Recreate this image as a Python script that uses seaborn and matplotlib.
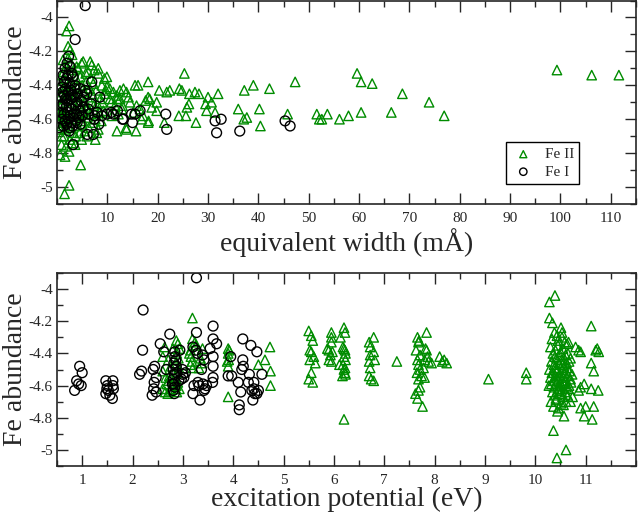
import matplotlib
matplotlib.use('Agg')
import matplotlib.pyplot as plt
from matplotlib.ticker import MultipleLocator
import seaborn as sns

# Fe II lines, equivalent width (mA) vs abundance
fe2_ew = [25.3, 18.1, 16.1, 20.3, 21.8, 22.4, 24.3, 24.8, 26.3, 27.4,
          28.2, 30.0, 32.0, 39.0, 37.2, 42.2, 47.3, 19.8, 18.4, 26.2,
          25.8, 24.2, 25.6, 29.5, 30.7, 29.7, 31.4, 36.0, 40.2, 37.1,
          37.7, 45.8, 40.4, 27.6, 21.3, 18.2, 15.7, 13.8, 19.8, 51.6,
          52.1, 52.6, 53.7, 56.1, 57.9, 59.6, 60.4, 60.4, 62.6, 66.4,
          68.6, 73.9, 76.9, 99.3, 106.2, 111.6,
          15.5, 12.5, 13.8, 14.2, 11.9, 18.1, 15.8, 16.5, 18.8, 15.2,
          17.1, 18.1, 11.9, 13.7, 10.8, 13.0, 14.5, 12.2, 17.6, 16.8,
          2.4, 1.9, 2.2, 2.6, 2.2, 4.7, 2.4, 1.5, 0.6, 1.6,
          2.4, 0.9, 0.9, 0.6, 3.6, 4.9, 7.6, 7.9, 5.9, 8.2,
          5.2, 6.6, 6.2, 9.4, 9.9, 10.5, 4.2, 4.6, 8.2, 9.5,
          10.5, 9.5, 10.9, 4.9, 6.9, 8.2, 9.9, 1.2, 1.8, 2.8,
          3.3, 1.0, 1.4, 2.0, 2.9, 3.8, 0.7, 1.1, 1.7, 2.5,
          3.1, 4.0, 5.0, 5.8, 6.5, 7.2, 0.8, 1.3, 2.1, 3.5,
          4.4, 5.4, 6.1, 7.0, 7.8, 8.6, 0.5, 1.0, 1.5, 2.3,
          3.0, 3.9, 4.8, 5.6, 6.4, 7.3, 8.0, 9.0, 0.6, 1.2,
          1.9, 2.7, 3.4, 4.2, 5.1, 6.0, 6.8, 7.6, 8.4, 9.2,
          0.9, 1.6, 2.4, 3.2, 4.1, 5.0, 6.3, 7.1, 8.8, 0.4,
          1.4, 2.6, 3.7, 4.5, 5.5, 1.8, 2.9, 0.7, 1.3, 3.0,
          3.9, 5.7, 6.7, 7.4, 8.9, 9.7, 11.2, 11.5, 12.5, 12.9,
          11.9, 13.2, 1.5, 2.0, 4.3, 3.3, 5.3, 6.0, 2.2, 1.1]
fe2_ab_ew = [-4.33, -4.38, -4.40, -4.43, -4.44, -4.43, -4.42, -4.43, -4.45, -4.44,
             -4.45, -4.47, -4.45, -4.40, -4.43, -4.42, -4.38, -4.50, -4.48, -4.51,
             -4.53, -4.58, -4.58, -4.51, -4.50, -4.55, -4.56, -4.54, -4.54, -4.60,
             -4.59, -4.57, -4.64, -4.62, -4.62, -4.61, -4.67, -4.66, -4.55, -4.57,
             -4.60, -4.60, -4.57, -4.60, -4.58, -4.33, -4.38, -4.56, -4.39, -4.56,
             -4.45, -4.50, -4.58, -4.31, -4.34, -4.34,
             -4.40, -4.43, -4.44, -4.47, -4.48, -4.47, -4.52, -4.54, -4.53, -4.56,
             -4.58, -4.62, -4.67, -4.65, -4.50, -4.52, -4.50, -4.57, -4.49, -4.60,
             -4.05, -4.08, -4.17, -4.19, -4.24, -4.87, -4.99, -5.04, -4.81, -4.82,
             -4.79, -4.75, -4.70, -4.66, -4.75, -4.72, -4.72, -4.68, -4.70, -4.66,
             -4.26, -4.26, -4.32, -4.36, -4.41, -4.42, -4.30, -4.35, -4.33, -4.45,
             -4.48, -4.56, -4.58, -4.27, -4.28, -4.30, -4.35, -4.25, -4.29, -4.27,
             -4.31, -4.34, -4.36, -4.33, -4.38, -4.36, -4.40, -4.42, -4.41, -4.39,
             -4.43, -4.41, -4.40, -4.38, -4.42, -4.39, -4.46, -4.48, -4.45, -4.47,
             -4.46, -4.44, -4.47, -4.45, -4.43, -4.48, -4.52, -4.51, -4.55, -4.53,
             -4.50, -4.54, -4.52, -4.50, -4.55, -4.52, -4.51, -4.50, -4.58, -4.60,
             -4.59, -4.62, -4.60, -4.58, -4.61, -4.59, -4.57, -4.60, -4.56, -4.55,
             -4.64, -4.66, -4.65, -4.68, -4.64, -4.63, -4.65, -4.62, -4.61, -4.62,
             -4.70, -4.72, -4.70, -4.68, -4.67, -4.76, -4.74, -4.56, -4.32, -4.22,
             -4.29, -4.33, -4.36, -4.31, -4.40, -4.43, -4.44, -4.52, -4.48, -4.54,
             -4.46, -4.42, -4.46, -4.43, -4.51, -4.56, -4.57, -4.53, -4.64, -4.57]

# Fe I lines, equivalent width vs abundance
fe1_ew = [31.7, 31.4, 32.6, 36.3, 45.3, 46.3, 21.6, 21.8, 16.5, 15.5,
          14.8, 13.0, 15.0, 12.0, 9.9, 8.9, 8.5, 8.3, 6.9, 6.2,
          5.9, 4.6, 5.6, 6.0, 7.2, 3.2, 3.6, 13.2, 11.2, 5.6,
          0.3, 10.8, 7.5, 8.0,
          2.3, 2.0, 1.6, 2.6, 1.2, 2.9, 1.9, 1.4, 2.5, 3.2,
          1.0, 1.7, 2.2, 2.8, 3.6, 4.1, 0.9, 1.5, 2.0, 2.7,
          3.3, 4.0, 4.8, 1.2, 1.8, 2.4, 3.0, 3.8, 4.5, 5.2,
          0.8, 1.4, 2.1, 2.6, 3.4, 4.3, 5.0, 6.3, 1.0, 1.6,
          2.3, 2.9, 3.7, 4.6, 1.3, 1.9, 2.5, 3.1, 4.0, 0.9,
          1.7, 2.2, 3.5, 6.8, 7.4, 5.3, 2.8, 1.1, 3.9, 2.4]
fe1_ab_ew = [-4.68, -4.61, -4.60, -4.67, -4.61, -4.64, -4.57, -4.66, -4.55, -4.57,
             -4.57, -4.60, -4.62, -4.55, -4.57, -4.58, -4.47, -4.63, -4.38, -4.54,
             -4.45, -4.42, -4.43, -4.69, -4.69, -4.75, -4.13, -4.60, -4.57, -3.93,
             -4.65, -4.56, -4.58, -4.56,
             -4.23, -4.27, -4.30, -4.29, -4.34, -4.33, -4.36, -4.38, -4.39, -4.35,
             -4.41, -4.42, -4.44, -4.43, -4.40, -4.45, -4.47, -4.46, -4.49, -4.48,
             -4.47, -4.50, -4.49, -4.51, -4.53, -4.52, -4.54, -4.52, -4.55, -4.53,
             -4.56, -4.57, -4.56, -4.58, -4.57, -4.59, -4.58, -4.57, -4.60, -4.61,
             -4.60, -4.62, -4.61, -4.63, -4.64, -4.63, -4.65, -4.64, -4.62, -4.52,
             -4.48, -4.34, -4.42, -4.51, -4.60, -4.47, -4.46, -4.44, -4.57, -4.67]

# Fe I lines, excitation potential (eV) vs abundance
fe1_ep = [0.85, 0.95, 1.00, 0.89, 0.93, 0.98, 1.47, 1.50, 1.49, 1.47,
          1.55, 1.60, 1.61, 1.61, 1.62, 1.52, 2.21, 2.20, 2.18, 2.14,
          2.55, 2.44, 2.41, 2.47, 2.43, 2.42, 2.39, 2.47, 2.74, 2.84,
          2.84, 2.82, 2.81, 2.83, 2.81, 2.82, 2.84, 2.81, 2.83, 2.79,
          2.94, 2.99, 3.02, 2.97, 3.00, 3.27, 3.27, 3.20, 3.26, 3.29,
          3.20, 3.22, 3.32, 3.34, 3.39, 3.37, 3.40, 3.44, 3.42, 3.47,
          3.60, 3.60, 3.60, 3.60, 3.60, 3.59, 3.67, 3.54, 3.42, 3.90,
          3.97, 3.95, 4.10, 4.12, 4.12, 4.15, 4.17, 4.19, 4.19, 4.20,
          4.35, 4.32, 4.30, 4.39, 4.37, 4.47, 4.41, 4.43, 4.47, 4.50,
          4.57, 4.41, 2.87, 2.86, 2.88, 3.05, 2.92, 3.30, 2.62, 2.67]
fe1_ab_ep = [-4.63, -4.48, -4.52, -4.57, -4.59, -4.60, -4.57, -4.60, -4.62, -4.65,
             -4.66, -4.68, -4.57, -4.60, -4.62, -4.63, -4.13, -4.38, -4.51, -4.53,
             -4.34, -4.48, -4.50, -4.55, -4.58, -4.62, -4.66, -4.64, -4.28, -4.39,
             -4.42, -4.46, -4.50, -4.53, -4.56, -4.59, -4.61, -4.63, -4.65, -4.59,
             -4.38, -4.50, -4.55, -4.56, -4.53, -3.93, -4.27, -4.36, -4.38, -4.40,
             -4.65, -4.60, -4.60, -4.69, -4.41, -4.50, -4.59, -4.62, -4.63, -4.60,
             -4.23, -4.31, -4.42, -4.48, -4.55, -4.58, -4.34, -4.37, -4.44, -4.54,
             -4.54, -4.42, -4.58, -4.72, -4.75, -4.64, -4.50, -4.31, -4.44, -4.48,
             -4.35, -4.53, -4.58, -4.69, -4.63, -4.39, -4.62, -4.65, -4.65, -4.63,
             -4.53, -4.58, -4.48, -4.44, -4.52, -4.52, -4.57, -4.58, -4.39, -4.50]

# Fe II lines, excitation potential vs abundance
fe2_ep = [3.19, 3.19, 3.24, 3.26, 3.15, 3.16, 3.18, 3.20, 3.15, 3.13,
          3.39, 3.35, 3.32, 3.38, 2.64, 2.80, 2.60, 2.71, 2.60, 2.66,
          2.73, 2.87, 2.90, 2.93, 2.88, 2.91, 2.86, 2.92, 2.89, 2.85,
          2.90, 2.87, 2.93, 2.88, 2.60, 2.65, 2.70, 2.75, 2.86, 2.78,
          2.72, 2.68, 2.76, 3.90, 3.92, 3.90, 3.91, 3.88, 3.90, 3.90,
          4.73, 4.63, 4.50, 4.74, 4.74, 5.50, 5.55, 5.58, 5.52, 5.55,
          5.60, 5.52, 5.63, 5.55, 5.50, 5.58, 5.95, 5.95, 5.95, 5.87,
          5.90, 5.97, 5.93, 5.90, 5.95, 6.13, 6.20, 6.22, 6.18, 6.20,
          6.22, 6.23, 6.20, 6.23, 6.18, 6.22, 6.20, 6.22, 6.17, 6.23,
          6.11, 6.20, 6.70, 6.72, 6.79, 6.72, 6.79, 6.81, 6.70, 6.72,
          6.70, 6.74, 6.79, 7.25, 7.66, 7.68, 7.69, 7.63, 7.71, 7.66,
          7.68, 7.71, 7.65, 7.68, 7.74, 7.78, 7.82, 7.84, 7.86, 7.80,
          7.88, 7.94, 7.62, 7.68, 7.66, 7.71, 7.76, 7.84, 7.80, 8.10,
          8.15, 8.24, 8.19, 9.07, 9.82, 9.82, 10.39, 10.28, 10.28, 10.34,
          10.38, 10.51, 10.53, 10.45, 10.58, 10.66, 10.36, 10.61, 10.43, 10.57,
          11.11, 10.80, 10.86, 10.90, 11.23, 11.26, 11.20, 11.11, 11.16, 10.97,
          10.90, 10.86, 11.11, 11.25, 10.90, 11.00, 10.97, 11.16, 11.13, 10.74,
          10.70,
          10.30, 10.35, 10.40, 10.45, 10.50, 10.55, 10.60, 10.65, 10.70, 10.32,
          10.37, 10.42, 10.47, 10.52, 10.57, 10.62, 10.67, 10.28, 10.33, 10.38,
          10.43, 10.48, 10.53, 10.58, 10.63, 10.68, 10.73, 10.30, 10.35, 10.40,
          10.45, 10.50, 10.55, 10.60, 10.65, 10.70, 10.27, 10.32, 10.37, 10.42,
          10.47, 10.52, 10.57, 10.62, 10.67, 10.34, 10.39, 10.44, 10.49, 10.54,
          10.59, 10.64, 10.31, 10.41, 10.51, 10.61, 10.36, 10.46, 10.56, 10.44,
          10.33, 10.43, 10.53, 10.63, 10.39, 10.49, 10.59, 10.46, 10.54, 10.41,
          10.50, 10.56, 10.38, 10.48, 10.58, 10.44, 10.52, 10.36, 10.66, 10.71]
fe2_ab_ep = [-4.18, -4.31, -4.33, -4.35, -4.38, -4.42, -4.45, -4.49, -4.47, -4.40,
             -4.37, -4.43, -4.49, -4.46, -4.36, -4.37, -4.42, -4.44, -4.51, -4.55,
             -4.54, -4.32, -4.34, -4.37, -4.40, -4.43, -4.46, -4.49, -4.52, -4.55,
             -4.58, -4.60, -4.62, -4.64, -4.62, -4.64, -4.65, -4.63, -4.62, -4.60,
             -4.57, -4.59, -4.48, -4.37, -4.38, -4.40, -4.44, -4.45, -4.48, -4.67,
             -4.36, -4.44, -4.47, -4.51, -4.60, -4.26, -4.29, -4.32, -4.38, -4.39,
             -4.42, -4.44, -4.46, -4.52, -4.56, -4.58, -4.27, -4.30, -4.33, -4.37,
             -4.38, -4.39, -4.41, -4.44, -4.45, -4.30, -4.24, -4.27, -4.36, -4.37,
             -4.38, -4.40, -4.42, -4.44, -4.47, -4.49, -4.50, -4.52, -4.54, -4.53,
             -4.47, -4.81, -4.33, -4.36, -4.30, -4.41, -4.39, -4.44, -4.45, -4.49,
             -4.54, -4.56, -4.57, -4.45, -4.30, -4.33, -4.32, -4.38, -4.41, -4.44,
             -4.47, -4.50, -4.52, -4.56, -4.54, -4.49, -4.37, -4.38, -4.42, -4.44,
             -4.45, -4.46, -4.65, -4.63, -4.68, -4.61, -4.73, -4.27, -4.55, -4.42,
             -4.45, -4.46, -4.44, -4.56, -4.52, -4.56, -4.04, -4.08, -4.18, -4.21,
             -4.27, -4.24, -4.27, -4.32, -4.33, -4.33, -4.88, -5.00, -5.05, -4.79,
             -4.23, -4.36, -4.38, -4.39, -4.37, -4.39, -4.38, -4.46, -4.51, -4.59,
             -4.61, -4.63, -4.62, -4.63, -4.74, -4.73, -4.79, -4.73, -4.81, -4.67,
             -4.70,
             -4.36, -4.40, -4.38, -4.35, -4.39, -4.37, -4.41, -4.40, -4.43, -4.45,
             -4.47, -4.43, -4.46, -4.44, -4.48, -4.46, -4.45, -4.50, -4.52, -4.49,
             -4.51, -4.53, -4.50, -4.52, -4.49, -4.51, -4.53, -4.55, -4.57, -4.54,
             -4.56, -4.58, -4.55, -4.57, -4.54, -4.56, -4.60, -4.59, -4.61, -4.58,
             -4.62, -4.60, -4.59, -4.61, -4.60, -4.64, -4.66, -4.63, -4.65, -4.67,
             -4.64, -4.66, -4.70, -4.69, -4.71, -4.70, -4.73, -4.74, -4.72, -4.76,
             -4.31, -4.29, -4.30, -4.34, -4.42, -4.41, -4.44, -4.62, -4.47, -4.68,
             -4.54, -4.58, -4.57, -4.60, -4.52, -4.50, -4.63, -4.52, -4.62, -4.58]

GREEN = '#008c00'

sns.set_style('ticks')
plt.rcParams['font.family'] = ['Liberation Serif', 'DejaVu Serif']

fig = plt.figure(figsize=(6.38, 5.15), dpi=100)
ax1 = fig.add_axes([57 / 638, 1 - 204 / 515, 579 / 638, 203.5 / 515])
ax2 = fig.add_axes([57 / 638, 1 - 466 / 515, 579 / 638, 193 / 515])


def draw(ax, x2, y2, x1, y1, with_legend):
    # Fe II triangles, Fe I circles, both hollow
    sns.scatterplot(x=x2, y=y2, ax=ax, marker='^', s=46, facecolor='none',
                    edgecolor=GREEN, linewidth=1.0, label='Fe II', legend=False)
    sns.scatterplot(x=x1, y=y1, ax=ax, marker='o', s=50, facecolor='none',
                    edgecolor='black', linewidth=1.0, label='Fe I', legend=False)
    ax.set_ylim(-5.1, -3.9)
    ax.yaxis.set_minor_locator(MultipleLocator(0.1))
    ax.set_yticks([-5, -4.8, -4.6, -4.4, -4.2, -4])
    ax.set_yticklabels(['-5', '-4.8', '-4.6', '-4.4', '-4.2', '-4'])
    ax.tick_params(which='both', direction='in', top=True, right=True,
                   labelsize=11, width=1.0)
    ax.tick_params(axis='y', pad=3)
    ax.tick_params(axis='x', pad=6)
    ax.tick_params(which='major', length=8)
    ax.tick_params(which='minor', length=4)
    for s in ax.spines.values():
        s.set_linewidth(1.2)
    ax.set_ylabel('Fe abundance', fontsize=20)
    ax.yaxis.set_label_coords(-0.05, 0.5)
    if with_legend:
        leg = ax.legend(loc='lower left', bbox_to_anchor=(0.775, 0.098),
                        borderaxespad=0, fontsize=11, markerscale=0.75,
                        fancybox=False, framealpha=1, edgecolor='black',
                        handletextpad=0.6, borderpad=0.35, labelspacing=0.25,
                        handlelength=1.6)
        leg.get_frame().set_linewidth(1.0)


draw(ax1, fe2_ew, fe2_ab_ew, fe1_ew, fe1_ab_ew, True)
ax1.set_xlim(0, 115)
ax1.xaxis.set_minor_locator(MultipleLocator(5))
ax1.set_xticks(range(10, 111, 10))
ax1.set_xlabel('equivalent width (m\u00c5)', fontsize=20, labelpad=2)

draw(ax2, fe2_ep, fe2_ab_ep, fe1_ep, fe1_ab_ep, False)
ax2.set_xlim(0.5, 12)
ax2.xaxis.set_minor_locator(MultipleLocator(0.5))
ax2.set_xticks(range(1, 12))
ax2.set_xlabel('excitation potential (eV)', fontsize=20, labelpad=0)

fig.savefig('out.png', dpi=100)
